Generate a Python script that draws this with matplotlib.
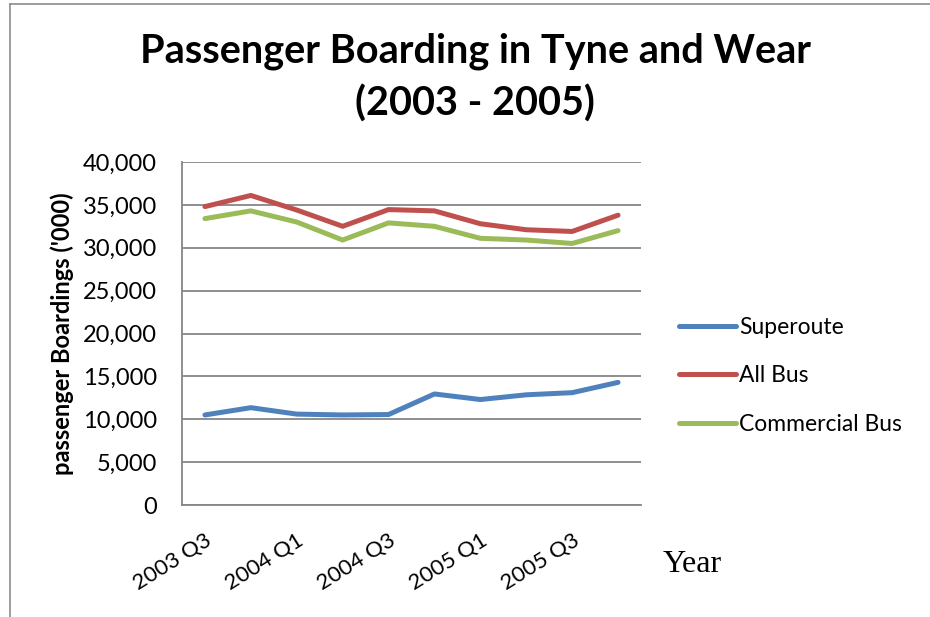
import numpy as np
import matplotlib.pyplot as plt
from matplotlib.lines import Line2D

# quarters
quarters = ["2003 Q3", "2003 Q4", "2004 Q1", "2004 Q2", "2004 Q3",
            "2004 Q4", "2005 Q1", "2005 Q2", "2005 Q3", "2005 Q4"]
# passenger boardings ('000)
superoute = [10500, 11350, 10600, 10500, 10550, 12950, 12300, 12850, 13100, 14300]
all_bus = [34800, 36100, 34400, 32500, 34450, 34300, 32800, 32100, 31900, 33800]
commercial_bus = [33400, 34300, 33000, 30900, 32900, 32500, 31100, 30900, 30500, 32000]

series_names = ["Superoute", "All Bus", "Commercial Bus"]
colors = ["#4F81BD", "#C0504D", "#9BBB59"]

plt.rcParams['font.family'] = ['Lato', 'DejaVu Sans']

W, H = 930, 617
fig = plt.figure(figsize=(W/100, H/100), dpi=100)
ax = fig.add_axes([182/W, 1-505/H, (641-182)/W, (505-162)/H])

x = np.arange(len(quarters))
for vals, name, c in zip([superoute, all_bus, commercial_bus], series_names, colors):
    ax.plot(x, vals, color=c, lw=3.6, solid_capstyle='round', label=name)

ax.set_xlim(-0.5, len(quarters)-0.5)
ax.set_ylim(0, 40000)
ax.set_yticks(np.arange(0, 40001, 5000))
ax.set_yticklabels([f"{v:,}" for v in range(0, 40001, 5000)], fontsize=17)
ax.grid(axis='y', color='#868686', lw=1.3)
ax.set_axisbelow(True)

# every other quarter gets a label
ax.set_xticks(x[::2])
ax.set_xticklabels(quarters[::2], fontsize=16, rotation=32,
                   ha='right', va='top', rotation_mode='anchor')
ax.tick_params(axis='both', length=0)
ax.tick_params(axis='y', pad=18)
ax.tick_params(axis='x', pad=18)

for s in ['top', 'right']:
    ax.spines[s].set_visible(False)
for s in ['left', 'bottom']:
    ax.spines[s].set_color('#868686')
    ax.spines[s].set_linewidth(1.3)

ax.set_ylabel("passenger Boardings ('000)", fontsize=17, fontweight='bold', labelpad=6)

fig.text(475/W, 1-33/H, "Passenger Boarding in Tyne and Wear\n(2003 - 2005)",
         ha='center', va='top', fontsize=28.5, fontweight='bold',
         linespacing=1.45, multialignment='center')
fig.text(663/W, 1-572/H, "Year", fontsize=23, family='Liberation Serif',
         ha='left', va='baseline')

ax.legend(loc='center left', bbox_to_anchor=(679/W, 1-376/H),
          bbox_transform=fig.transFigure, frameon=False, fontsize=16.5,
          handlelength=2.5, handletextpad=0.12, labelspacing=1.22,
          borderpad=0, borderaxespad=0)

# outer chart border (only left and top visible)
fig.add_artist(Line2D([9.5/W, 9.5/W], [0, 1-4/H], color='#8c8c8c', lw=1.2))
fig.add_artist(Line2D([9.5/W, 1], [1-4/H, 1-4/H], color='#8c8c8c', lw=1.2))

fig.savefig("out.png", dpi=100)
